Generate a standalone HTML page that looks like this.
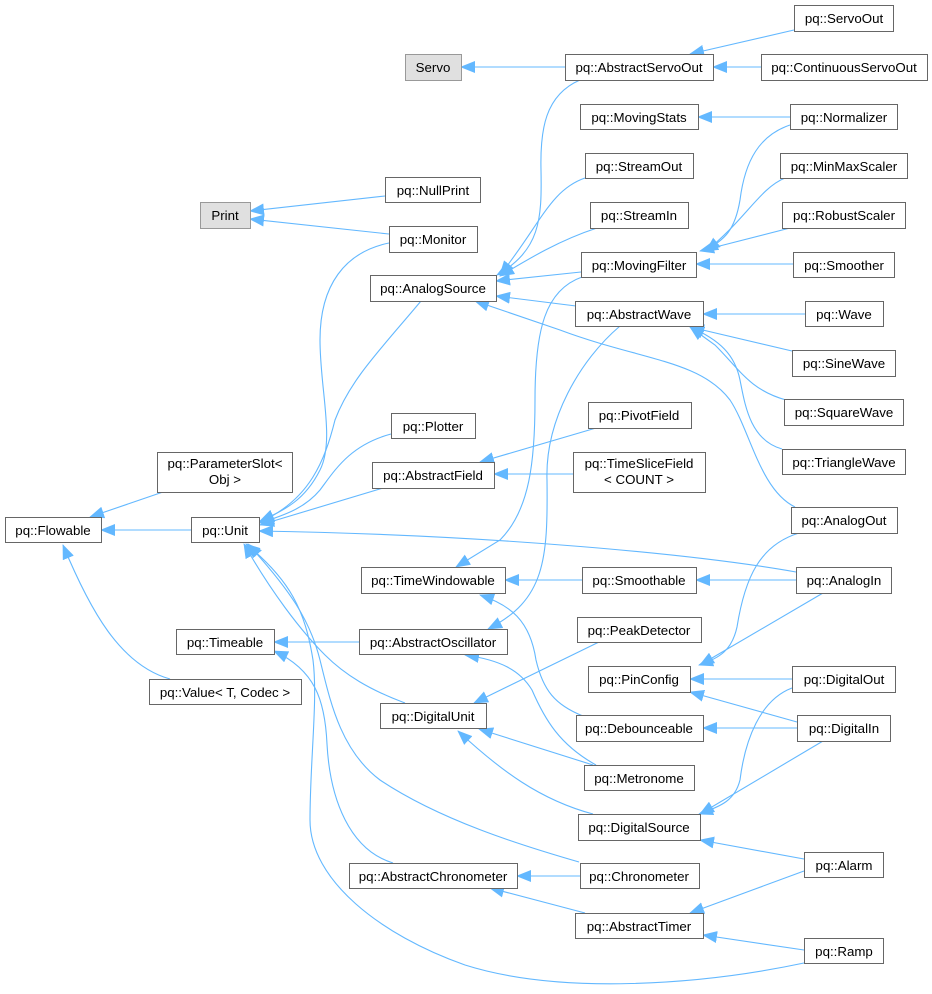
<!DOCTYPE html>
<html><head><meta charset="utf-8"><style>
html,body{margin:0;padding:0;background:#fff;}
svg{display:block;}
text{font-family:"Liberation Sans",Arial,sans-serif;font-size:13.3px;fill:#000;text-anchor:middle;}
.e{fill:none;stroke:#63b8ff;stroke-width:1.1;marker-end:url(#a);}
.n{fill:#fff;stroke:#666;stroke-width:1;}
.g{fill:#e0e0e0;stroke:#999;stroke-width:1;}
</style></head><body>
<svg width="932" height="994" viewBox="0 0 932 994" xmlns="http://www.w3.org/2000/svg">
<defs><marker id="a" markerWidth="15" markerHeight="12" refX="14" refY="6" orient="auto" markerUnits="userSpaceOnUse"><path d="M0,0 L15,6 L0,12 z" fill="#63b8ff"/></marker></defs>
<path class="e" d="M565,67 L461,67"/>
<path class="e" d="M794,30 L690,54"/>
<path class="e" d="M761,67 L713,67"/>
<path class="e" d="M385,196 L250,211"/>
<path class="e" d="M389,234 L250,219"/>
<path class="e" d="M389,243 C345,252 320,285 320,340 C320,390 335,440 320,470 C305,500 285,510 260,521"/>
<path class="e" d="M421,301 C380,350 350,380 335,420 C325,460 310,500 260,522"/>
<path class="e" d="M391,434 C350,445 335,470 320,490 C305,508 285,515 260,523"/>
<path class="e" d="M383,488 L260,525"/>
<path class="e" d="M163,492 L90,517"/>
<path class="e" d="M191,530 L101,530"/>
<path class="e" d="M170,679 C120,665 90,610 63,545"/>
<path class="e" d="M580,80 C545,95 540,130 541,170 C542,220 540,250 497,275"/>
<path class="e" d="M585,178 C550,190 540,225 500,275"/>
<path class="e" d="M597,228 C560,240 530,258 500,276"/>
<path class="e" d="M581,272 L496,281"/>
<path class="e" d="M576,306 L496,296"/>
<path class="e" d="M795,507 C760,490 750,430 730,400 C700,360 640,360 560,330 L475,301"/>
<path class="e" d="M790,117 L698,117"/>
<path class="e" d="M790,125 C760,135 745,160 740,200 C735,230 725,240 704,251"/>
<path class="e" d="M785,178 C760,188 745,220 706,251"/>
<path class="e" d="M790,228 L700,251"/>
<path class="e" d="M793,264 L696,264"/>
<path class="e" d="M805,314 L703,314"/>
<path class="e" d="M792,351 L690,327"/>
<path class="e" d="M786,400 C750,390 740,370 715,345 L690,327"/>
<path class="e" d="M782,449 C750,440 745,405 740,380 C735,355 720,340 690,327"/>
<path class="e" d="M596,428 L480,462"/>
<path class="e" d="M573,474 L494,474"/>
<path class="e" d="M582,277 C545,290 535,330 535,400 C535,460 530,510 500,540 L456,567"/>
<path class="e" d="M620,326 C580,360 545,420 547,480 C548,560 545,600 488,629"/>
<path class="e" d="M796,572 C700,555 500,535 259,531"/>
<path class="e" d="M582,580 L505,580"/>
<path class="e" d="M796,580 L696,580"/>
<path class="e" d="M359,642 L274,642"/>
<path class="e" d="M405,703 C370,690 345,675 325,655 C300,630 270,590 244,544"/>
<path class="e" d="M579,862 C520,845 440,820 380,780 C340,750 330,700 320,660 C310,620 290,590 248,544"/>
<path class="e" d="M804,963 C700,985 560,995 465,965 C380,935 310,880 310,820 C310,760 318,700 313,660 C305,610 290,580 246,544"/>
<path class="e" d="M393,863 C350,850 330,800 327,744 C325,700 315,670 274,651"/>
<path class="e" d="M593,814 C540,800 500,770 458,731"/>
<path class="e" d="M599,642 L474,703"/>
<path class="e" d="M583,716 C555,705 543,690 536,660 C530,620 510,605 480,595"/>
<path class="e" d="M596,765 C560,745 545,720 532,690 C520,670 500,660 465,655"/>
<path class="e" d="M593,765 L479,729"/>
<path class="e" d="M799,533 C760,545 745,577 737,627 C732,650 720,658 699,665"/>
<path class="e" d="M823,593 L700,665"/>
<path class="e" d="M792,679 L690,679"/>
<path class="e" d="M797,722 L690,692"/>
<path class="e" d="M797,728 L703,728"/>
<path class="e" d="M792,688 C760,700 745,740 740,780 C735,800 722,806 699,814"/>
<path class="e" d="M823,741 L700,814"/>
<path class="e" d="M804,859 L700,840"/>
<path class="e" d="M580,876 L517,876"/>
<path class="e" d="M585,913 L490,888"/>
<path class="e" d="M804,871 L690,913"/>
<path class="e" d="M804,950 L703,935"/>
<g>
<rect class="g" x="405.5" y="54.5" width="56" height="26"/><text x="433" y="72">Servo</text>
<rect class="g" x="200.5" y="202.5" width="50" height="26"/><text x="225" y="220">Print</text>
<rect class="n" x="385.5" y="177.5" width="95" height="25"/><text x="433" y="195">pq::NullPrint</text>
<rect class="n" x="389.5" y="226.5" width="88" height="26"/><text x="433" y="244">pq::Monitor</text>
<rect class="n" x="370.5" y="275.5" width="126" height="26"/><text x="433" y="293">pq::AnalogSource</text>
<rect class="n" x="391.5" y="413.5" width="84" height="25"/><text x="433" y="431">pq::Plotter</text>
<rect class="n" x="372.5" y="462.5" width="122" height="26"/><text x="433" y="480">pq::AbstractField</text>
<rect class="n" x="157.5" y="452.5" width="135" height="40"/><text x="225" y="468">pq::ParameterSlot&lt;</text><text x="225" y="484">Obj &gt;</text>
<rect class="n" x="5.5" y="517.5" width="96" height="25"/><text x="53" y="535">pq::Flowable</text>
<rect class="n" x="191.5" y="517.5" width="68" height="25"/><text x="225" y="535">pq::Unit</text>
<rect class="n" x="361.5" y="567.5" width="144" height="26"/><text x="433" y="585">pq::TimeWindowable</text>
<rect class="n" x="176.5" y="629.5" width="98" height="25"/><text x="225" y="647">pq::Timeable</text>
<rect class="n" x="149.5" y="679.5" width="152" height="25"/><text x="225" y="697">pq::Value&lt; T, Codec &gt;</text>
<rect class="n" x="359.5" y="629.5" width="148" height="25"/><text x="433" y="647">pq::AbstractOscillator</text>
<rect class="n" x="380.5" y="703.5" width="106" height="25"/><text x="433" y="721">pq::DigitalUnit</text>
<rect class="n" x="349.5" y="863.5" width="168" height="25"/><text x="433" y="881">pq::AbstractChronometer</text>
<rect class="n" x="794.5" y="5.5" width="99" height="26"/><text x="844" y="23">pq::ServoOut</text>
<rect class="n" x="565.5" y="54.5" width="148" height="26"/><text x="639" y="72">pq::AbstractServoOut</text>
<rect class="n" x="761.5" y="54.5" width="166" height="26"/><text x="844" y="72">pq::ContinuousServoOut</text>
<rect class="n" x="580.5" y="104.5" width="118" height="25"/><text x="639" y="122">pq::MovingStats</text>
<rect class="n" x="790.5" y="104.5" width="107" height="25"/><text x="844" y="122">pq::Normalizer</text>
<rect class="n" x="585.5" y="153.5" width="108" height="25"/><text x="639" y="171">pq::StreamOut</text>
<rect class="n" x="780.5" y="153.5" width="127" height="25"/><text x="844" y="171">pq::MinMaxScaler</text>
<rect class="n" x="590.5" y="202.5" width="98" height="26"/><text x="639" y="220">pq::StreamIn</text>
<rect class="n" x="782.5" y="202.5" width="123" height="26"/><text x="844" y="220">pq::RobustScaler</text>
<rect class="n" x="581.5" y="252.5" width="115" height="25"/><text x="639" y="270">pq::MovingFilter</text>
<rect class="n" x="793.5" y="252.5" width="101" height="25"/><text x="844" y="270">pq::Smoother</text>
<rect class="n" x="575.5" y="301.5" width="128" height="25"/><text x="639" y="319">pq::AbstractWave</text>
<rect class="n" x="805.5" y="301.5" width="78" height="25"/><text x="844" y="319">pq::Wave</text>
<rect class="n" x="792.5" y="350.5" width="103" height="26"/><text x="844" y="368">pq::SineWave</text>
<rect class="n" x="588.5" y="402.5" width="103" height="26"/><text x="639" y="420">pq::PivotField</text>
<rect class="n" x="784.5" y="399.5" width="119" height="26"/><text x="844" y="417">pq::SquareWave</text>
<rect class="n" x="573.5" y="452.5" width="132" height="40"/><text x="639" y="468">pq::TimeSliceField</text><text x="639" y="484">&lt; COUNT &gt;</text>
<rect class="n" x="782.5" y="449.5" width="123" height="25"/><text x="844" y="467">pq::TriangleWave</text>
<rect class="n" x="791.5" y="507.5" width="106" height="26"/><text x="844" y="525">pq::AnalogOut</text>
<rect class="n" x="582.5" y="567.5" width="114" height="26"/><text x="639" y="585">pq::Smoothable</text>
<rect class="n" x="796.5" y="567.5" width="95" height="26"/><text x="844" y="585">pq::AnalogIn</text>
<rect class="n" x="577.5" y="617.5" width="124" height="25"/><text x="639" y="635">pq::PeakDetector</text>
<rect class="n" x="588.5" y="666.5" width="102" height="26"/><text x="639" y="684">pq::PinConfig</text>
<rect class="n" x="792.5" y="666.5" width="103" height="26"/><text x="844" y="684">pq::DigitalOut</text>
<rect class="n" x="576.5" y="715.5" width="127" height="26"/><text x="639" y="733">pq::Debounceable</text>
<rect class="n" x="797.5" y="715.5" width="93" height="26"/><text x="844" y="733">pq::DigitalIn</text>
<rect class="n" x="584.5" y="765.5" width="110" height="25"/><text x="639" y="783">pq::Metronome</text>
<rect class="n" x="578.5" y="814.5" width="122" height="26"/><text x="639" y="832">pq::DigitalSource</text>
<rect class="n" x="804.5" y="852.5" width="79" height="25"/><text x="844" y="870">pq::Alarm</text>
<rect class="n" x="580.5" y="863.5" width="119" height="25"/><text x="639" y="881">pq::Chronometer</text>
<rect class="n" x="575.5" y="913.5" width="128" height="25"/><text x="639" y="931">pq::AbstractTimer</text>
<rect class="n" x="804.5" y="938.5" width="79" height="25"/><text x="844" y="956">pq::Ramp</text>
</g>
</svg>
</body></html>
